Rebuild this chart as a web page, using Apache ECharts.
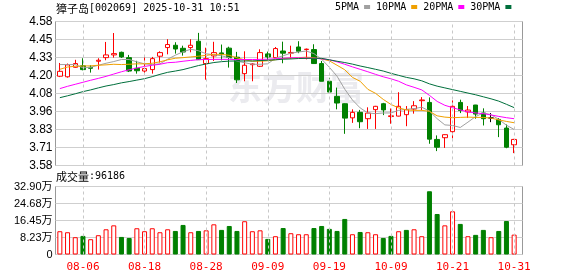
<!DOCTYPE html>
<html><head><meta charset="utf-8">
<script src="https://cdn.jsdelivr.net/npm/echarts@6/dist/echarts.min.js"></script>
<style>html,body{margin:0;padding:0;background:#fff}#c{width:578px;height:276px}</style>
</head><body><div id="c"></div>
<script>
const dates = ['08-01','08-04','08-05','08-06','08-07','08-08','08-11','08-12','08-13','08-14','08-15','08-18','08-19','08-20','08-21','08-22','08-25','08-26','08-27','08-28','08-29','09-01','09-02','09-03','09-04','09-05','09-08','09-09','09-10','09-11','09-12','09-15','09-16','09-17','09-18','09-19','09-22','09-23','09-24','09-25','09-26','09-29','09-30','10-09','10-10','10-13','10-14','10-15','10-16','10-17','10-20','10-21','10-22','10-23','10-24','10-27','10-28','10-29','10-30','10-31'];
const xLabels = ['08-06','08-18','08-28','09-09','09-19','10-09','10-21','10-31'];
const open  = [4.20,4.196,4.262,4.272,4.262,4.304,4.329,4.348,4.366,4.329,4.255,4.236,4.246,4.339,4.399,4.415,4.394,4.399,4.443,4.288,4.341,4.362,4.395,4.332,4.218,4.28,4.269,4.355,4.329,4.375,4.36,4.403,4.385,4.385,4.288,4.165,4.06,4.009,3.911,3.949,3.905,3.968,4.009,3.92,3.923,3.933,3.972,4.03,4.018,3.761,3.773,3.815,4.018,3.952,4.0,3.945,3.91,3.90,3.84,3.724];
const close = [4.234,4.279,4.288,4.246,4.255,4.311,4.348,4.357,4.334,4.236,4.238,4.253,4.322,4.364,4.42,4.389,4.368,4.415,4.315,4.322,4.364,4.355,4.33,4.175,4.276,4.285,4.364,4.334,4.392,4.36,4.365,4.373,4.388,4.288,4.165,4.09,4.014,3.909,3.949,3.884,3.944,3.991,3.966,3.925,3.991,3.968,3.995,4.035,3.763,3.707,3.794,3.991,3.962,3.965,3.937,3.905,3.91,3.863,3.707,3.761];
const low   = [4.194,4.19,4.259,4.241,4.225,4.246,4.311,4.329,4.327,4.229,4.218,4.222,4.218,4.295,4.352,4.357,4.343,4.366,4.315,4.176,4.306,4.31,4.26,4.153,4.165,4.165,4.264,4.314,4.327,4.29,4.32,4.36,4.317,4.286,4.165,4.088,3.97,3.80,3.876,3.839,3.834,3.834,3.93,3.87,3.921,3.853,3.94,3.963,3.731,3.68,3.702,3.768,3.944,3.91,3.905,3.858,3.881,3.777,3.70,3.666];
const high  = [4.292,4.288,4.314,4.325,4.276,4.325,4.438,4.50,4.371,4.348,4.307,4.345,4.334,4.373,4.457,4.436,4.412,4.457,4.501,4.398,4.439,4.42,4.405,4.369,4.373,4.29,4.387,4.371,4.403,4.44,4.412,4.443,4.392,4.422,4.306,4.189,4.121,4.011,3.97,3.966,3.984,3.994,4.015,3.976,4.089,3.993,4.027,4.055,4.053,3.789,3.796,4.032,4.037,3.993,4.001,3.977,3.944,3.909,3.865,3.765];
const ma5  = [4.281,4.281,4.281,4.258,4.262,4.276,4.29,4.302,4.316,4.316,4.30,4.286,4.281,4.286,4.318,4.346,4.37,4.387,4.377,4.356,4.349,4.342,4.328,4.304,4.294,4.283,4.283,4.286,4.325,4.342,4.36,4.368,4.375,4.357,4.318,4.262,4.2,4.11,4.035,3.98,3.945,3.94,3.945,3.945,3.963,3.97,3.975,3.985,3.958,3.905,3.862,3.858,3.844,3.881,3.92,3.945,3.933,3.9,3.86,3.83];
const ma10 = [4.248,4.264,4.269,4.271,4.272,4.276,4.279,4.283,4.281,4.283,4.286,4.286,4.29,4.30,4.314,4.325,4.329,4.334,4.339,4.345,4.352,4.352,4.345,4.328,4.314,4.304,4.304,4.307,4.314,4.323,4.326,4.329,4.332,4.329,4.32,4.307,4.276,4.245,4.192,4.165,4.109,4.081,4.039,4.004,3.98,3.966,3.963,3.963,3.956,3.925,3.916,3.912,3.914,3.916,3.914,3.914,3.909,3.897,3.886,3.877];
const ma20 = [4.114,4.13,4.144,4.158,4.172,4.185,4.199,4.215,4.231,4.245,4.257,4.268,4.276,4.283,4.294,4.297,4.304,4.31,4.315,4.316,4.317,4.317,4.317,4.316,4.316,4.316,4.317,4.318,4.321,4.325,4.328,4.328,4.326,4.325,4.321,4.314,4.3,4.283,4.265,4.248,4.231,4.213,4.196,4.182,4.165,4.14,4.123,4.105,4.067,4.025,3.998,3.982,3.966,3.952,3.945,3.94,3.931,3.921,3.912,3.905];
const ma30 = [4.051,4.064,4.078,4.093,4.105,4.119,4.132,4.142,4.154,4.163,4.173,4.183,4.197,4.213,4.227,4.236,4.246,4.26,4.274,4.285,4.295,4.301,4.305,4.306,4.306,4.306,4.309,4.311,4.314,4.318,4.32,4.323,4.324,4.325,4.324,4.314,4.304,4.295,4.284,4.271,4.26,4.248,4.236,4.22,4.206,4.192,4.182,4.168,4.147,4.131,4.119,4.107,4.095,4.083,4.071,4.057,4.043,4.027,4.005,3.982];
const volume = [112600,107700,83700,90000,74000,93300,122000,141000,85000,80000,127000,112600,127000,107700,122000,114000,143000,107700,114000,117000,146000,119000,138000,114000,161000,112600,117000,75500,88500,128000,103000,98000,98000,128000,138000,124000,114000,172000,98000,109000,107700,98000,80000,90000,112600,119000,122000,88500,306000,196000,141000,209000,148000,88500,95000,119000,83700,114000,162000,96186];
const priceTicks = ['3.58','3.71','3.83','3.96','4.08','4.20','4.33','4.45','4.58'];
const volTicks = ['0','8.23万','16.45万','24.68万','32.90万'];
const maNames = ['5PMA','10PMA','20PMA','30PMA'];
const titleName = '獐子岛';
const titleRest = '[002069] 2025-10-31 10:51';
const volName = '成交量';
const volValue = ':96186';
const watermark = '东方财富';

const RED = '#ff0000', GREEN = '#008000';
const maColors = ['#a0a0a0','#f0a000','#ff00ff','#006f3c'];
const mono = '"DejaVu Sans Mono","Liberation Mono",monospace';

const kData = dates.map((d,i)=>[open[i],close[i],low[i],high[i]]);
const volData = volume.map((v,i)=>{
  const up = i===0 ? close[i]>=open[i] : close[i]>=close[i-1];
  return {value:v, itemStyle: up ? {color:'#fff', borderColor:RED, borderWidth:1} : {color:GREEN, borderColor:GREEN, borderWidth:1}};
});
const vLines = {silent:true, symbol:'none', label:{show:false}, lineStyle:{type:[3,3], color:'#c8c8c8', width:1}, data: xLabels.map(x=>({xAxis:x}))};

const chart = echarts.init(document.getElementById('c'));
chart.setOption({
  animation:false,
  backgroundColor:'#fff',
  grid:[
    {left:55.5, top:21.5, width:467, height:144, show:true, borderColor:'#999', borderWidth:1, backgroundColor:'transparent'},
    {left:56, top:21.5, width:462, height:144},
    {left:55.5, top:186.5, width:467, height:68, show:true, borderColor:'#999', borderWidth:1, backgroundColor:'transparent'},
    {left:56, top:186.5, width:462, height:68}
  ],
  xAxis:[
    {gridIndex:0, type:'value', min:0, max:1, show:false},
    {gridIndex:1, type:'category', data:dates, boundaryGap:true, show:false},
    {gridIndex:2, type:'value', min:0, max:1, show:false},
    {gridIndex:3, type:'category', data:dates, boundaryGap:true,
      axisLine:{show:false}, axisTick:{show:false}, splitLine:{show:false},
      axisLabel:{interval:(i,v)=>xLabels.includes(v), color:RED, fontFamily:mono, fontSize:11, margin:7}}
  ],
  yAxis:[
    {gridIndex:0, type:'value', min:0, max:8, interval:1, axisLine:{show:false}, axisTick:{show:false},
      axisLabel:{formatter:v=>priceTicks[Math.round(v)], color:'#000', fontFamily:'"Liberation Sans",Arial,sans-serif', fontSize:12, margin:3},
      splitLine:{lineStyle:{color:'#cfcfcf', width:1}}},
    {gridIndex:1, type:'value', min:3.58, max:4.58, show:false, splitLine:{show:false}},
    {gridIndex:2, type:'value', min:0, max:329000, interval:82250, axisLine:{show:false}, axisTick:{show:false},
      axisLabel:{formatter:v=>volTicks[Math.round(v/82250)], color:'#000', fontFamily:'"Liberation Sans",Arial,"Noto Sans CJK SC",sans-serif', fontSize:11, margin:3},
      splitLine:{lineStyle:{color:'#cfcfcf', width:1}}},
    {gridIndex:3, type:'value', min:0, max:329000, show:false, splitLine:{show:false}}
  ],
  legend:{
    data:maNames, left:335, top:2, padding:0, align:'right', icon:'rect', itemWidth:6, itemHeight:4, itemGap:6,
    textStyle:{fontFamily:mono, fontSize:10, color:'#000'}, selectedMode:false
  },
  graphic:[
    {type:'text', left:56, top:3, style:{
      text:'{c|'+titleName+'}{m|'+titleRest+'}',
      rich:{c:{fontFamily:'"Noto Sans CJK SC"', fontSize:11, fill:'#000'}, m:{fontFamily:mono, fontSize:10, fill:'#000'}}}},
    {type:'text', left:56, top:171, style:{
      text:'{c|'+volName+'}{m|'+volValue+'}',
      rich:{c:{fontFamily:'"Noto Sans CJK SC"', fontSize:11, fill:'#000'}, m:{fontFamily:mono, fontSize:10, fill:'#000'}}}},
    {type:'text', left:228, top:70, z:-10, style:{text:watermark, fontFamily:'"Noto Sans CJK SC"', fontWeight:'bold', fontSize:34, fill:'#ebebef'}}
  ],
  series:[
    {type:'line', name:'grid-v', xAxisIndex:1, yAxisIndex:1, data:[], z:1, markLine:vLines},
    {type:'line', name:'grid-v2', xAxisIndex:3, yAxisIndex:3, data:[], z:1, markLine:vLines},
    {type:'candlestick', name:'K', xAxisIndex:1, yAxisIndex:1, data:kData, barWidth:5, z:3,
      itemStyle:{color:'#fff', color0:GREEN, borderColor:RED, borderColor0:GREEN, borderColorDoji:'#000', borderWidth:1}},
    {type:'line', name:maNames[0], xAxisIndex:1, yAxisIndex:1, data:ma5, showSymbol:false, symbol:'none', lineStyle:{width:1, color:maColors[0]}, itemStyle:{color:maColors[0]}, z:4},
    {type:'line', name:maNames[1], xAxisIndex:1, yAxisIndex:1, data:ma10, showSymbol:false, symbol:'none', lineStyle:{width:1, color:maColors[1]}, itemStyle:{color:maColors[1]}, z:4},
    {type:'line', name:maNames[2], xAxisIndex:1, yAxisIndex:1, data:ma20, showSymbol:false, symbol:'none', lineStyle:{width:1, color:maColors[2]}, itemStyle:{color:maColors[2]}, z:4},
    {type:'line', name:maNames[3], xAxisIndex:1, yAxisIndex:1, data:ma30, showSymbol:false, symbol:'none', lineStyle:{width:1, color:maColors[3]}, itemStyle:{color:maColors[3]}, z:4},
    {type:'bar', name:'VOL', xAxisIndex:3, yAxisIndex:3, data:volData, barWidth:5, z:3}
  ]
});
</script></body></html>
